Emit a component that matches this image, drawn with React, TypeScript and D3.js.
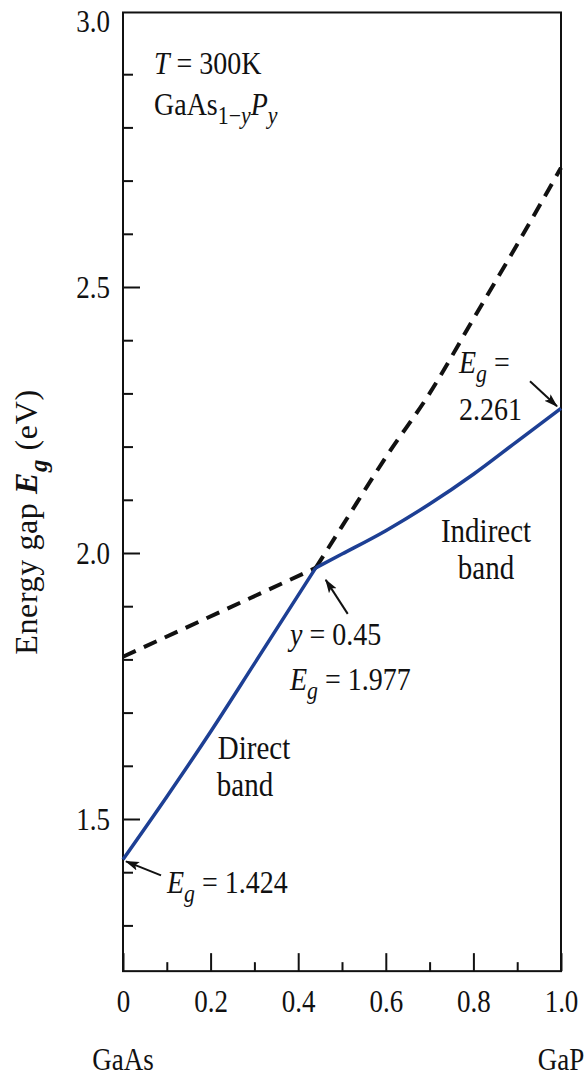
import { useRef, useEffect, RefObject } from 'react';
import * as d3 from 'd3';

// composition y (GaAs -> GaP) and band gap Eg (eV)
const directY: number[] = [0, 0.1, 0.2, 0.3, 0.44];
const directEg: number[] = [1.424, 1.542, 1.664, 1.792, 1.972];
const indirectY: number[] = [0.44, 0.5, 0.6, 0.7, 0.8, 0.9, 1.0];
const indirectEg: number[] = [1.972, 1.998, 2.042, 2.092, 2.148, 2.21, 2.272];
const directExtY: number[] = [0.44, 0.5, 0.6, 0.7, 0.8, 0.9, 1.0];
const directExtEg: number[] = [1.972, 2.05, 2.18, 2.3, 2.44, 2.58, 2.724];
const indirectExtY: number[] = [0, 0.44];
const indirectExtEg: number[] = [1.805, 1.972];

const xMajor: number[] = [0, 0.2, 0.4, 0.6, 0.8, 1.0];
const xMinor: number[] = [0.1, 0.3, 0.5, 0.7, 0.9];
const yMajor: number[] = [1.5, 2.0, 2.5, 3.0];
const yMinor: number[] = [1.3, 1.4, 1.6, 1.7, 1.8, 1.9, 2.1, 2.2, 2.3, 2.4, 2.6, 2.7, 2.8, 2.9];
const yDomain: number[] = [1.214, 3.016];

const FONT = "'Liberation Serif', 'DejaVu Serif', serif";
const BLUE = '#1d3f94';
const STRETCH = 1.15; // the original face is taller and narrower than Times

const BandGapChart = () => {
  const svgRef: RefObject<SVGSVGElement> = useRef(null);

  useEffect(() => {
    const width = 587;
    const height = 1076;
    const x = d3.scaleLinear().domain([0, 1]).range([123, 561]);
    const y = d3.scaleLinear().domain([1.5, 2.5]).range([819, 287]);

    const svg = d3.select(svgRef.current);
    svg.selectAll('*').remove();
    svg.attr('width', width).attr('height', height).attr('viewBox', [0, 0, width, height]);

    svg
      .append('defs')
      .append('marker')
      .attr('id', 'head')
      .attr('markerUnits', 'userSpaceOnUse')
      .attr('viewBox', '0 -5 14 10')
      .attr('refX', 13)
      .attr('refY', 0)
      .attr('markerWidth', 14)
      .attr('markerHeight', 10)
      .attr('orient', 'auto')
      .append('path')
      .attr('d', 'M0,-4.5L14,0L0,4.5L3,0Z')
      .attr('fill', '#111');

    // frame
    svg
      .append('rect')
      .attr('x', x(0))
      .attr('y', y(yDomain[1]))
      .attr('width', x(1) - x(0))
      .attr('height', y(yDomain[0]) - y(yDomain[1]))
      .attr('fill', 'none')
      .attr('stroke', '#111')
      .attr('stroke-width', 2);

    const styleAxis = (g: any) => {
      g.select('.domain').remove();
      g.selectAll('line').attr('stroke', '#111').attr('stroke-width', 2);
      g.selectAll('text')
        .style('font-family', FONT)
        .attr('font-size', 27)
        .attr('fill', '#111');
    };

    const fmtX = (d: number) => (d === 0 ? '0' : d3.format('.1f')(d));

    const xAx = svg
      .append('g')
      .attr('transform', `translate(0,${y(yDomain[0])})`)
      .call(d3.axisBottom(x).tickValues(xMajor).tickSize(-18).tickSizeOuter(0).tickPadding(0).tickFormat(fmtX as any))
      .call(styleAxis);
    // baseline ~41px below the axis, glyphs stretched vertically
    xAx.selectAll('.tick text').attr('y', 0).attr('dy', null).attr('transform', `translate(0,41) scale(1,${STRETCH})`);
    svg
      .append('g')
      .attr('transform', `translate(0,${y(yDomain[0])})`)
      .call(d3.axisBottom(x).tickValues(xMinor).tickSize(-9).tickSizeOuter(0).tickFormat(() => ''))
      .call(styleAxis);

    const yAx = svg
      .append('g')
      .attr('transform', `translate(${x(0)},0)`)
      .call(d3.axisLeft(y).tickValues(yMajor).tickSize(-17).tickSizeOuter(0).tickPadding(13).tickFormat(d3.format('.1f') as any))
      .call(styleAxis);
    yAx.selectAll('.tick text').attr('dy', '0.34em').attr('transform', `scale(1,${STRETCH})`);
    yAx.selectAll('.tick').filter((d: any) => d === 3.0).select('line').remove();
    svg
      .append('g')
      .attr('transform', `translate(${x(0)},0)`)
      .call(d3.axisLeft(y).tickValues(yMinor).tickSize(-10).tickSizeOuter(0).tickFormat(() => ''))
      .call(styleAxis);

    // curves
    const drawCurve = (xs: number[], es: number[], dashed: boolean) => {
      const pts: [number, number][] = xs.map((v, i) => [x(v), y(es[i])]);
      svg
        .append('path')
        .attr('d', d3.line().curve(d3.curveMonotoneX)(pts))
        .attr('fill', 'none')
        .attr('stroke', dashed ? '#111' : BLUE)
        .attr('stroke-width', dashed ? 4 : 3.5)
        .attr('stroke-dasharray', dashed ? '14,9' : null)
        .attr('stroke-linejoin', 'round');
    };
    drawCurve(indirectExtY, indirectExtEg, true);
    drawCurve(directExtY, directExtEg, true);
    drawCurve(directY, directEg, false);
    drawCurve(indirectY, indirectEg, false);

    // arrows
    const arrow = (x1: number, y1: number, x2: number, y2: number) => {
      svg
        .append('line')
        .attr('x1', x1)
        .attr('y1', y1)
        .attr('x2', x2)
        .attr('y2', y2)
        .attr('stroke', '#111')
        .attr('stroke-width', 2)
        .attr('marker-end', 'url(#head)');
    };
    arrow(x(0) + 38, y(1.424) + 16, x(0) + 3, y(1.424) + 2);
    arrow(x(0.44) + 32, y(1.972) + 46, x(0.44) + 10, y(1.972) + 12);
    arrow(x(1) - 31, y(2.272) - 27, x(1) - 4, y(2.272) - 2);

    // text; part kinds: i = italic, b = bold, s = subscript
    const txt = (tx: number, ty: number, parts: [string, string?][], size = 28, sy = STRETCH) => {
      const t = svg
        .append('text')
        .attr('transform', `translate(${tx},${ty}) scale(1,${sy})`)
        .style('font-family', FONT)
        .attr('font-size', size)
        .attr('fill', '#111');
      let shift = 0;
      parts.forEach(([s, kind = '']) => {
        const sp = t.append('tspan').text(s);
        let want = 0;
        if (kind.includes('s')) {
          want = Math.round(size * 0.3);
          sp.attr('font-size', size * 0.78);
        }
        if (kind.includes('i')) sp.attr('font-style', 'italic');
        if (kind.includes('b')) sp.attr('font-weight', 'bold');
        if (want !== shift) {
          sp.attr('dy', want - shift);
          shift = want;
        }
      });
      return t;
    };

    txt(154, 74, [['T', 'i'], [' = 300K']]);
    txt(154, 115, [['GaAs'], ['1−', 's'], ['y', 'si'], ['P', 'i'], ['y', 'si']]);
    txt(459, 373, [['E', 'i'], ['g', 'si'], [' =']]);
    txt(459, 420, [['2.261']]);
    txt(486, 542, [['Indirect']], 29).attr('text-anchor', 'middle');
    txt(486, 579, [['band']], 29).attr('text-anchor', 'middle');
    txt(290, 645, [['y', 'i'], [' = 0.45']]);
    txt(290, 690, [['E', 'i'], ['g', 'si'], [' = 1.977']]);
    txt(254, 759, [['Direct']], 29).attr('text-anchor', 'middle');
    txt(245, 796, [['band']], 29).attr('text-anchor', 'middle');
    txt(167, 893, [['E', 'i'], ['g', 'si'], [' = 1.424']]);

    txt(x(0), 1070, [['GaAs']], 27).attr('text-anchor', 'middle');
    txt(x(1), 1070, [['GaP']], 27).attr('text-anchor', 'middle');

    // y axis title
    txt(0, 0, [['Energy gap '], ['E', 'ib'], ['g', 'sib'], [' (eV)']], 32, 1)
      .attr('text-anchor', 'middle')
      .attr('letter-spacing', 0.6)
      .attr('transform', `translate(37,522) rotate(-90)`);
  }, []);

  return (
    <svg
      ref={svgRef}
      style={{ position: 'absolute', left: 0, top: 0, display: 'block', background: '#fff' }}
    ></svg>
  );
};

export default function App() {
  return <BandGapChart />;
}
